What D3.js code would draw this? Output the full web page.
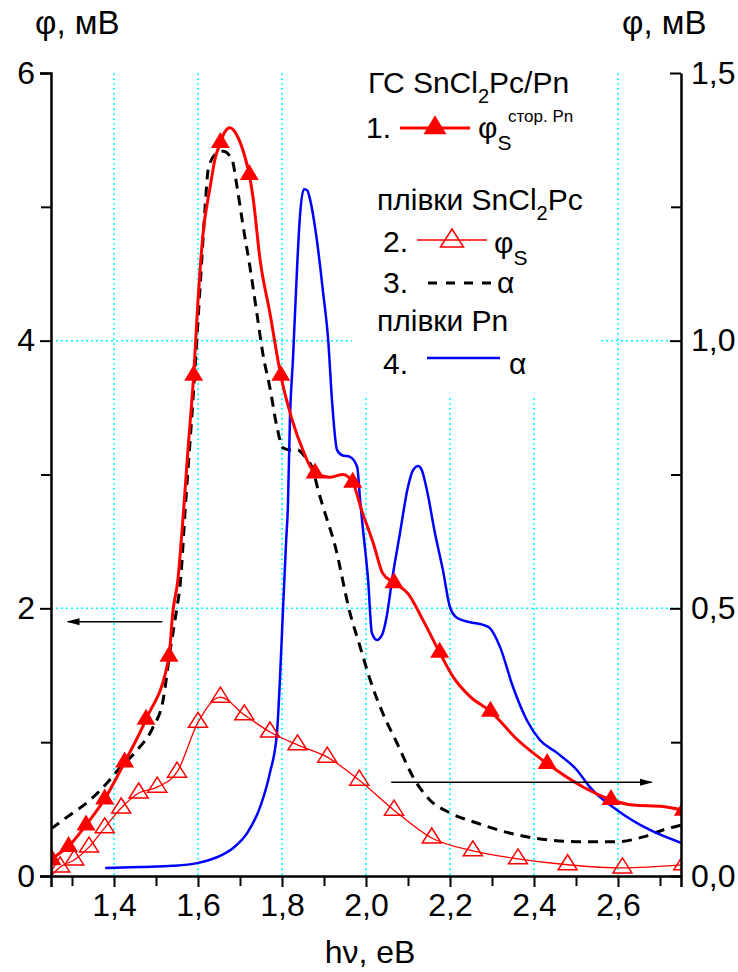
<!DOCTYPE html>
<html><head><meta charset="utf-8">
<script src="https://cdn.jsdelivr.net/npm/d3@7"></script>
<style>
body{margin:0;background:#fff;}
text{font-family:"Liberation Sans",Arial,sans-serif;fill:#000;}
</style></head>
<body><svg id="c" width="738" height="972"></svg>
<script>
// ---------- data ----------
const xDomain = [1.25, 2.75];
const xTicks = [1.4, 1.6, 1.8, 2.0, 2.2, 2.4, 2.6];
const xMinorTicks = [1.3, 1.5, 1.7, 1.9, 2.1, 2.3, 2.5, 2.7];
const yLeftTicks = [0, 2, 4, 6];
const yLeftMinorTicks = [1, 3, 5];
const yRightTicks = [0, 0.5, 1.0, 1.5];
const yRightMinorTicks = [0.25, 0.75, 1.25];

// 1. φs (стор. Pn), left axis, mV — smooth line
const s1Line = [[1.25,0.11],[1.2525,0.12],[1.2917,0.22],[1.3333,0.38],[1.3778,0.575],[1.4253,0.85],[1.4762,1.17],[1.5309,1.64],[1.540,1.97],[1.552,2.21],[1.564,2.66],[1.576,3.18],[1.5897,3.74],[1.600,4.30],[1.612,4.80],[1.629,5.15],[1.640,5.35],[1.6533,5.48],[1.664,5.56],[1.676,5.59],[1.695,5.52],[1.712,5.37],[1.7222,5.24],[1.731,5.07],[1.748,4.60],[1.771,4.21],[1.7971,3.74],[1.824,3.41],[1.850,3.18],[1.8788,3.01],[1.914,2.98],[1.945,3.0],[1.9683,2.94],[1.990,2.73],[2.019,2.47],[2.040,2.26],[2.0667,2.19],[2.100,2.11],[2.136,1.91],[2.1754,1.67],[2.207,1.49],[2.248,1.34],[2.2963,1.23],[2.360,1.02],[2.4314,0.84],[2.517,0.665],[2.5833,0.57],[2.636,0.53],[2.707,0.52],[2.7556,0.49]];
const s1Markers = [[1.2525,0.12],[1.2917,0.22],[1.3333,0.38],[1.3778,0.575],[1.4253,0.85],[1.4762,1.17],[1.5309,1.64],[1.5897,3.74],[1.6533,5.48],[1.7222,5.24],[1.7971,3.74],[1.8788,3.01],[1.9683,2.94],[2.0667,2.19],[2.1754,1.67],[2.2963,1.23],[2.4314,0.84],[2.5833,0.57],[2.7556,0.49]];

// 2. φs SnCl2Pc films, right axis, mV
const s2Start = [[1.25,0.0]];
const s2Markers = [[1.2718,0.017],[1.3053,0.030],[1.3405,0.054],[1.3778,0.090],[1.4171,0.127],[1.4588,0.155],[1.5030,0.166],[1.55,0.194],[1.60,0.287],[1.6533,0.334],[1.7103,0.301],[1.7714,0.269],[1.8370,0.245],[1.9077,0.222],[1.9840,0.179],[2.0667,0.123],[2.1565,0.071],[2.2545,0.047],[2.3619,0.032],[2.48,0.021],[2.6105,0.015],[2.7556,0.021]];

// 3. α SnCl2Pc films (right-axis units)
const s3 = [[1.25,0.088],[1.288,0.110],[1.343,0.142],[1.386,0.176],[1.414,0.202],[1.455,0.235],[1.493,0.278],[1.517,0.329],[1.533,0.418],[1.55,0.502],[1.557,0.54],[1.571,0.702],[1.588,0.889],[1.605,1.100],[1.617,1.250],[1.624,1.318],[1.64,1.347],[1.66,1.354],[1.681,1.338],[1.693,1.287],[1.707,1.216],[1.724,1.136],[1.74,1.052],[1.755,0.973],[1.771,0.913],[1.788,0.839],[1.802,0.80],[1.819,0.796],[1.836,0.796],[1.855,0.783],[1.874,0.758],[1.886,0.721],[1.898,0.689],[1.926,0.618],[1.962,0.491],[1.986,0.428],[2.01,0.366],[2.04,0.304],[2.074,0.248],[2.112,0.185],[2.152,0.142],[2.2,0.118],[2.264,0.099],[2.343,0.080],[2.438,0.067],[2.517,0.064],[2.598,0.064],[2.66,0.073],[2.707,0.086],[2.75,0.095]];

// 4. α Pn films (right-axis units)
const s4 = [[1.379,0.015],[1.462,0.017],[1.54,0.019],[1.598,0.024],[1.645,0.035],[1.683,0.052],[1.717,0.080],[1.748,0.129],[1.771,0.192],[1.788,0.267],[1.795,0.366],[1.802,0.491],[1.81,0.628],[1.814,0.689],[1.819,0.857],[1.826,0.964],[1.836,1.138],[1.843,1.235],[1.852,1.283],[1.86,1.281],[1.867,1.263],[1.883,1.188],[1.898,1.089],[1.91,1.001],[1.919,0.889],[1.931,0.796],[1.943,0.786],[1.962,0.783],[1.979,0.764],[1.986,0.702],[1.993,0.646],[2.005,0.553],[2.014,0.454],[2.026,0.441],[2.038,0.45],[2.05,0.488],[2.062,0.553],[2.081,0.641],[2.1,0.727],[2.112,0.758],[2.124,0.766],[2.133,0.758],[2.145,0.721],[2.164,0.641],[2.183,0.572],[2.2,0.502],[2.217,0.482],[2.248,0.474],[2.279,0.469],[2.295,0.463],[2.319,0.428],[2.35,0.353],[2.383,0.291],[2.414,0.254],[2.455,0.230],[2.502,0.198],[2.533,0.166],[2.598,0.123],[2.676,0.086],[2.75,0.062]];

// arrows (data coords, left axis units)
const arrowLeft = [[1.515,1.90],[1.29,1.90]];
const arrowRight = [[2.06,0.70],[2.68,0.70]];

// ---------- drawing ----------
const svg = d3.select("#c");
const L = 51, R = 681, T = 73, B = 876;
const x = d3.scaleLinear(xDomain, [L, R]);
const yL = d3.scaleLinear([0, 6], [B, T]);
const yR = d3.scaleLinear([0, 1.5], [B, T]);
const fmt = d => d.toFixed(1).replace('.', ',');
const FS = 32;

svg.append("defs").append("clipPath").attr("id","clip")
  .append("rect").attr("x",L).attr("y",40).attr("width",R-L).attr("height",B-40);
svg.select("defs").append("marker").attr("id","ah").attr("viewBox","0 0 10 10")
  .attr("refX",9).attr("refY",5).attr("markerWidth",13).attr("markerHeight",13)
  .attr("markerUnits","userSpaceOnUse").attr("orient","auto")
  .append("path").attr("d","M0,2.3 L10,5 L0,7.7 Z").attr("fill","#000");

// grid
const grid = svg.append("g").attr("stroke","#00ffff").attr("stroke-width",1.5).attr("stroke-dasharray","2,3");
grid.selectAll(".gv").data(xTicks).join("line").attr("x1",d=>x(d)).attr("x2",d=>x(d)).attr("y1",T).attr("y2",B);
grid.selectAll(".gh").data([2,4]).join("line").attr("x1",L).attr("x2",R).attr("y1",d=>yL(d)).attr("y2",d=>yL(d));

// legend background (covers grid)
svg.append("rect").attr("x",352).attr("y",45).attr("width",247).attr("height",350).attr("fill","#fff");

const plot = svg.append("g").attr("clip-path","url(#clip)");
const lineL = d3.line().x(d=>x(d[0])).y(d=>yL(d[1])).curve(d3.curveMonotoneX);
const lineR = d3.line().x(d=>x(d[0])).y(d=>yR(d[1])).curve(d3.curveMonotoneX);

function tri(w,h){ return `M0,${-h*2/3} L${w/2},${h/3} L${-w/2},${h/3} Z`; }

// series 3 dashed
plot.append("path").attr("d",lineR(s3)).attr("fill","none").attr("stroke","#000").attr("stroke-width",3).attr("stroke-dasharray","10,7");
// series 4 blue
plot.append("path").attr("d",lineR(s4)).attr("fill","none").attr("stroke","#0000ff").attr("stroke-width",2.5);
// series 2 thin red
plot.append("path").attr("d",lineR(s2Start.concat(s2Markers))).attr("fill","none").attr("stroke","#ff0000").attr("stroke-width",1.3);
plot.selectAll(".m2").data(s2Markers).join("path").attr("d",tri(19,15))
  .attr("transform",d=>`translate(${x(d[0])},${yR(d[1])})`).attr("fill","none").attr("stroke","#ff0000").attr("stroke-width",1.5);
// series 1 thick red
plot.append("path").attr("d",lineL(s1Line)).attr("fill","none").attr("stroke","#ff0000").attr("stroke-width",3);
plot.selectAll(".m1").data(s1Markers).join("path").attr("d",tri(19,16))
  .attr("transform",d=>`translate(${x(d[0])},${yL(d[1])})`).attr("fill","#ff0000");

// arrows
svg.append("line").attr("x1",x(arrowLeft[0][0])).attr("y1",yL(arrowLeft[0][1])).attr("x2",x(arrowLeft[1][0])).attr("y2",yL(arrowLeft[1][1]))
  .attr("stroke","#000").attr("stroke-width",1.6).attr("marker-end","url(#ah)");
svg.append("line").attr("x1",x(arrowRight[0][0])).attr("y1",yL(arrowRight[0][1])).attr("x2",x(arrowRight[1][0])).attr("y2",yL(arrowRight[1][1]))
  .attr("stroke","#000").attr("stroke-width",1.6).attr("marker-end","url(#ah)");

// axes
function styleAxis(g){ g.select(".domain").attr("stroke","#000").attr("stroke-width",2.5);
  g.selectAll(".tick line").attr("stroke","#000").attr("stroke-width",2);
  g.selectAll("text").attr("font-size",FS).style("font-family","'Liberation Sans',Arial,sans-serif"); }

const gx = svg.append("g").attr("transform",`translate(0,${B})`)
  .call(d3.axisBottom(x).tickValues(xTicks).tickFormat(fmt).tickSizeOuter(0).tickSize(11).tickPadding(6));
styleAxis(gx);
svg.append("g").attr("transform",`translate(0,${B})`)
  .call(d3.axisBottom(x).tickValues(xMinorTicks).tickFormat("").tickSizeOuter(0).tickSize(10))
  .call(g=>{g.select(".domain").remove(); g.selectAll("line").attr("stroke","#000").attr("stroke-width",2);});

const gl = svg.append("g").attr("transform",`translate(${L},0)`)
  .call(d3.axisLeft(yL).tickValues(yLeftTicks).tickFormat(d3.format("d")).tickSizeOuter(0).tickSize(11).tickPadding(5));
styleAxis(gl);
svg.append("g").attr("transform",`translate(${L},0)`)
  .call(d3.axisLeft(yL).tickValues(yLeftMinorTicks).tickFormat("").tickSizeOuter(0).tickSize(10))
  .call(g=>{g.select(".domain").remove(); g.selectAll("line").attr("stroke","#000").attr("stroke-width",2);});

const gr = svg.append("g").attr("transform",`translate(${R},0)`)
  .call(d3.axisRight(yR).tickValues(yRightTicks).tickFormat(fmt).tickSizeOuter(0).tickSizeInner(-11).tickPadding(10));
styleAxis(gr);
svg.append("g").attr("transform",`translate(${R},0)`)
  .call(d3.axisRight(yR).tickValues(yRightMinorTicks).tickFormat("").tickSizeOuter(0).tickSize(-10))
  .call(g=>{g.select(".domain").remove(); g.selectAll("line").attr("stroke","#000").attr("stroke-width",2);});

// axis titles
svg.append("text").attr("x",35).attr("y",34).attr("font-size",33).text("φ, мВ");
svg.append("text").attr("x",622).attr("y",34).attr("font-size",33).text("φ, мВ");
svg.append("text").attr("x",370).attr("y",963).attr("text-anchor","middle").attr("font-size",FS).text("hν, eB");

// legend
const LF = 30;
const lg = svg.append("g").attr("font-size",LF);
let t = lg.append("text").attr("x",368).attr("y",93);
t.append("tspan").text("ГС SnCl");
t.append("tspan").attr("dy",10).attr("font-size",20).text("2");
t.append("tspan").attr("dy",-10).text("Pc/Pn");

lg.append("text").attr("x",366).attr("y",138).text("1.");
lg.append("line").attr("x1",400).attr("x2",470).attr("y1",128).attr("y2",128).attr("stroke","#ff0000").attr("stroke-width",3);
lg.append("path").attr("d",tri(23,19)).attr("transform","translate(435,128)").attr("fill","#ff0000");
t = lg.append("text").attr("x",478).attr("y",138);
t.append("tspan").text("φ");
t.append("tspan").attr("dy",12).attr("font-size",21).text("S");
lg.append("text").attr("x",508).attr("y",122).attr("font-size",17).text("стор. Pn");

t = lg.append("text").attr("x",377).attr("y",210);
t.append("tspan").text("плівки SnCl");
t.append("tspan").attr("dy",10).attr("font-size",20).text("2");
t.append("tspan").attr("dy",-10).text("Pc");

lg.append("text").attr("x",383).attr("y",252).text("2.");
lg.append("line").attr("x1",417).attr("x2",487).attr("y1",240).attr("y2",240).attr("stroke","#ff0000").attr("stroke-width",1.3);
lg.append("path").attr("d",tri(23,18)).attr("transform","translate(452,241)").attr("fill","none").attr("stroke","#ff0000").attr("stroke-width",1.5);
t = lg.append("text").attr("x",494).attr("y",253);
t.append("tspan").text("φ");
t.append("tspan").attr("dy",12).attr("font-size",21).text("S");

lg.append("text").attr("x",383).attr("y",293).text("3.");
lg.append("line").attr("x1",428).attr("x2",492).attr("y1",283).attr("y2",283).attr("stroke","#000").attr("stroke-width",3).attr("stroke-dasharray","9,9");
lg.append("text").attr("x",497).attr("y",293).text("α");

lg.append("text").attr("x",377).attr("y",331).text("плівки Pn");
lg.append("text").attr("x",383).attr("y",374).text("4.");
lg.append("line").attr("x1",427).attr("x2",500).attr("y1",358).attr("y2",358).attr("stroke","#0000ff").attr("stroke-width",2.5);
lg.append("text").attr("x",509).attr("y",374).text("α");
</script></body></html>
